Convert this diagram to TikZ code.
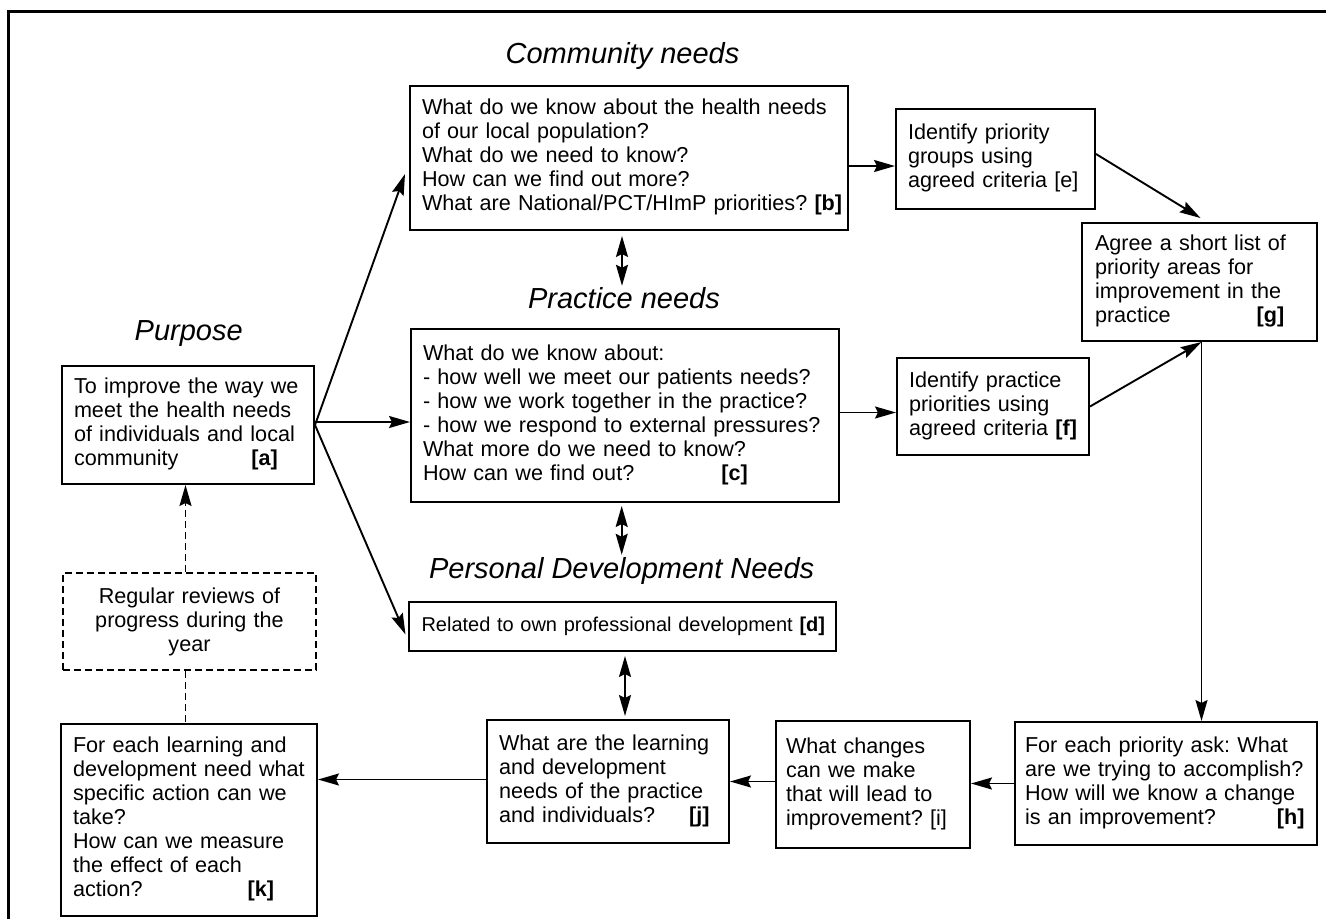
\documentclass[tikz,border=0pt]{standalone}
\usepackage{fontspec}
\setmainfont{Liberation Sans}
\usetikzlibrary{arrows.meta}
\frenchspacing
\begin{document}
\begin{tikzpicture}[x=1pt,y=-1pt,
  box/.style={draw, line width=2pt, inner xsep=12pt, inner ysep=0pt, align=left,
    font=\fontsize{21.6}{24}\selectfont},
  ttl/.style={font=\fontsize{29}{32}\selectfont\itshape, inner sep=0pt, anchor=base},
  tip/.tip={Stealth[length=21pt,width=12pt,inset=3pt]},
  arr/.style={line width=1.9pt, -tip},
  dbl/.style={line width=1.9pt, tip-tip},
  dsh/.style={dash pattern=on 7pt off 4pt},
]
\useasboundingbox (0,0) rectangle (1326,919);
% frame
\draw[line width=3pt] (8,919) -- (8,11) -- (1326,11);

% titles
\node[ttl] (tp) at (188.7,340.7) {Purpose};
\node[ttl] (tb) at (622.5,63.3) {Community needs};
\node[ttl] (tc) at (624,308) {Practice needs};
\node[ttl] (td) at (621.7,578) {Personal Development Needs};

% boxes
\node[box, minimum width=252pt, minimum height=118pt, text width=228pt] (a) at (188,425)
 {\begin{tabular}{@{}l@{}}To improve the way we\\meet the health needs\\of individuals and local\\community\hspace{73pt}\textbf{[a]}\end{tabular}};
\node[box, minimum width=438pt, minimum height=144pt, text width=414pt] (b) at (629,158)
 {\begin{tabular}{@{}l@{}}What do we know about the health needs\\of our local population?\\What do we need to know?\\How can we find out more?\\What are National/PCT/HImP priorities? \textbf{[b]}\end{tabular}};
\node[box, minimum width=428pt, minimum height=173pt, text width=404pt] (c) at (625,415.5)
 {\begin{tabular}{@{}l@{}}What do we know about:\\- how well we meet our patients needs?\\- how we work together in the practice?\\- how we respond to external pressures?\\What more do we need to know?\\How can we find out?\hspace{87pt}\textbf{[c]}\end{tabular}};
\node[box, minimum width=427pt, minimum height=49pt, text width=401pt, inner xsep=13pt,
  font=\fontsize{20}{24}\selectfont] (d) at (622,626.5)
 {\begin{tabular}{@{}l@{}}Related to own professional development \textbf{[d]}\end{tabular}};
\node[box, minimum width=199pt, minimum height=100pt, text width=175pt] (e) at (995.5,159)
 {\begin{tabular}{@{}l@{}}Identify priority\\groups using\\agreed criteria [e]\end{tabular}};
\node[box, minimum width=192pt, minimum height=97pt, text width=168pt] (f) at (993,406.5)
 {\begin{tabular}{@{}l@{}}Identify practice\\priorities using\\agreed criteria \textbf{[f]}\end{tabular}};
\node[box, minimum width=235pt, minimum height=118pt, text width=209pt, inner xsep=13pt] (g) at (1199.5,282)
 {\begin{tabular}{@{}l@{}}Agree a short list of\\priority areas for\\improvement in the\\practice\hspace{86pt}\textbf{[g]}\end{tabular}};
\node[box, minimum width=302pt, minimum height=123pt, text width=282pt, inner xsep=10pt] (h) at (1166,783.5)
 {\begin{tabular}{@{}l@{}}For each priority ask: What\\are we trying to accomplish?\\How will we know a change\\is an improvement?\hspace{61pt}\textbf{[h]}\end{tabular}};
\node[box, minimum width=194pt, minimum height=127pt, text width=174pt, inner xsep=10pt] (i) at (873,784.5)
 {\begin{tabular}{@{}l@{}}What changes\\can we make\\that will lead to\\improvement? [i]\end{tabular}};
\node[box, minimum width=242pt, minimum height=123pt, text width=218pt] (j) at (608,781.5)
 {\begin{tabular}{@{}l@{}}What are the learning\\and development\\needs of the practice\\and individuals?\hspace{34pt}\textbf{[j]}\end{tabular}};
\node[box, minimum width=256pt, minimum height=192pt, text width=232pt] (k) at (189,820)
 {\begin{tabular}{@{}l@{}}For each learning and\\development need what\\specific action can we\\take?\\How can we measure\\the effect of each\\action?\hspace{105pt}\textbf{[k]}\end{tabular}};
\node[box, dsh, align=center, minimum width=253pt, minimum height=97pt, text width=229pt] (r) at (189.5,621.5)
 {Regular reviews of\\progress during the\\year};

% connectors
\draw[arr] (a.east) -- ([xshift=-4pt,yshift=-16pt]b.west);
\draw[arr] ([yshift=3pt]a.east) -- ([yshift=3pt]a.east -| c.west);
\draw[arr] (a.east) -- ([xshift=-2pt,yshift=-8pt]d.west);
\draw[arr] ([yshift=-8pt]b.east) -- ([yshift=-8pt]b.east -| e.west);
\draw[arr] ([yshift=3pt]c.east) -- ([yshift=3pt]c.east -| f.west);
\draw[arr] ([yshift=5pt]e.east) -- ([xshift=1pt,yshift=4pt]g.north);
\draw[arr] (f.east) -- ([xshift=2pt]g.south);
\draw[arr] ([xshift=2pt]g.south) -- ([xshift=2pt]g.south |- h.north);
\draw[arr] (h.west) -- (h.west -| i.east);
\draw[arr] (j.east -| i.west) -- (j.east);
\draw[arr] ([yshift=2pt]j.west) -- ([yshift=2pt]j.west -| k.east);
\draw[arr, dsh] ([xshift=-4pt]r.north) -- ([xshift=-4pt]r.north |- a.south);
\draw[line width=1.9pt, dsh] ([xshift=-4pt]r.south) -- ([xshift=-4pt]r.south |- k.north);
\draw[dbl] ([xshift=-2pt,yshift=-5pt]b.south -| tc.north) -- ([xshift=-2pt,yshift=1pt]tc.north);
\draw[dbl] ([yshift=-3pt]c.south -| td.north) -- ([yshift=2pt]td.north);
\draw[dbl] ([xshift=3pt,yshift=-4pt]d.south) -- ([xshift=3pt,yshift=3pt]d.south |- j.north);
\end{tikzpicture}
\end{document}
